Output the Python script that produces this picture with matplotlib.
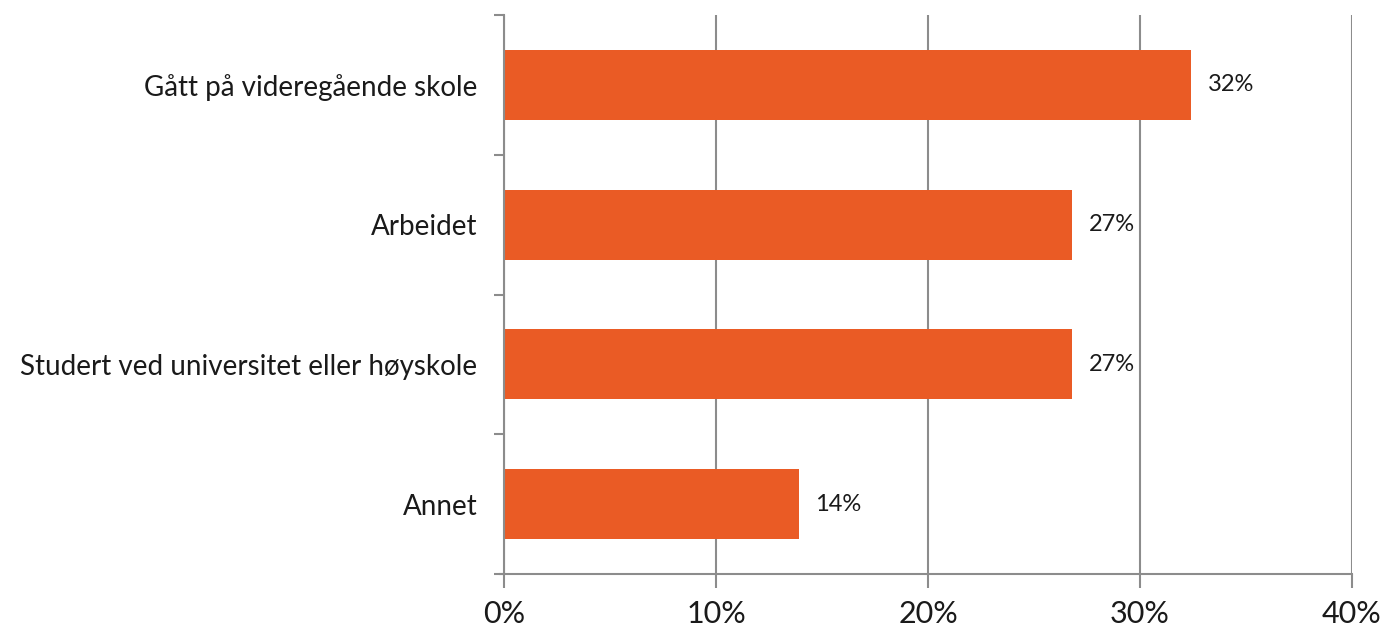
import matplotlib
matplotlib.use("Agg")
import matplotlib.pyplot as plt
from matplotlib.ticker import FixedLocator

categories = ["Gått på videregående skole", "Arbeidet",
              "Studert ved universitet eller høyskole", "Annet"]
values = [32.4, 26.8, 26.8, 13.9]
labels = ["32%", "27%", "27%", "14%"]
xticks = [0, 10, 20, 30, 40]
xticklabels = ["0%", "10%", "20%", "30%", "40%"]

plt.rcParams['font.family'] = ['Lato', 'DejaVu Sans']
fig = plt.figure(figsize=(13.87, 6.31), dpi=100)
ax = fig.add_axes([504/1387, 1-574/631, (1352-504)/1387, (574-15)/631])

n = len(categories)
ypos = list(range(n))[::-1]
bar_color = "#EA5B25"
grid_color = "#8C8C8C"

ax.barh(ypos, values, height=0.5, color=bar_color, zorder=3)
for y, v, lab in zip(ypos, values, labels):
    ax.annotate(lab, (v, y), xytext=(12, 0), textcoords="offset points",
                va="center", ha="left", fontsize=17, color="#1a1a1a")

ax.set_xlim(0, 40)
ax.set_ylim(-0.5, n - 0.5)
ax.set_xticks(xticks)
ax.set_xticklabels(xticklabels, fontsize=22, color="#1a1a1a")
ax.set_yticks(ypos)
ax.set_yticklabels(categories, fontsize=20, color="#1a1a1a")
ax.yaxis.set_minor_locator(FixedLocator([i - 0.5 for i in range(n + 1)]))
ax.tick_params(axis="y", which="major", length=0, pad=19)
ax.tick_params(axis="y", which="minor", length=7, color=grid_color, width=1.5)
ax.tick_params(axis="x", which="major", length=10, color=grid_color, width=1.5, pad=9)

ax.grid(axis="x", color=grid_color, linewidth=1.5, zorder=0)
for s in ["top", "right"]:
    ax.spines[s].set_visible(False)
for s in ["left", "bottom"]:
    ax.spines[s].set_color(grid_color)
    ax.spines[s].set_linewidth(1.5)
ax.spines["bottom"].set_bounds(-0.2, 40)
ax.spines["bottom"].set_zorder(4)
ax.spines["left"].set_zorder(4)

fig.savefig("out.png", dpi=100)
